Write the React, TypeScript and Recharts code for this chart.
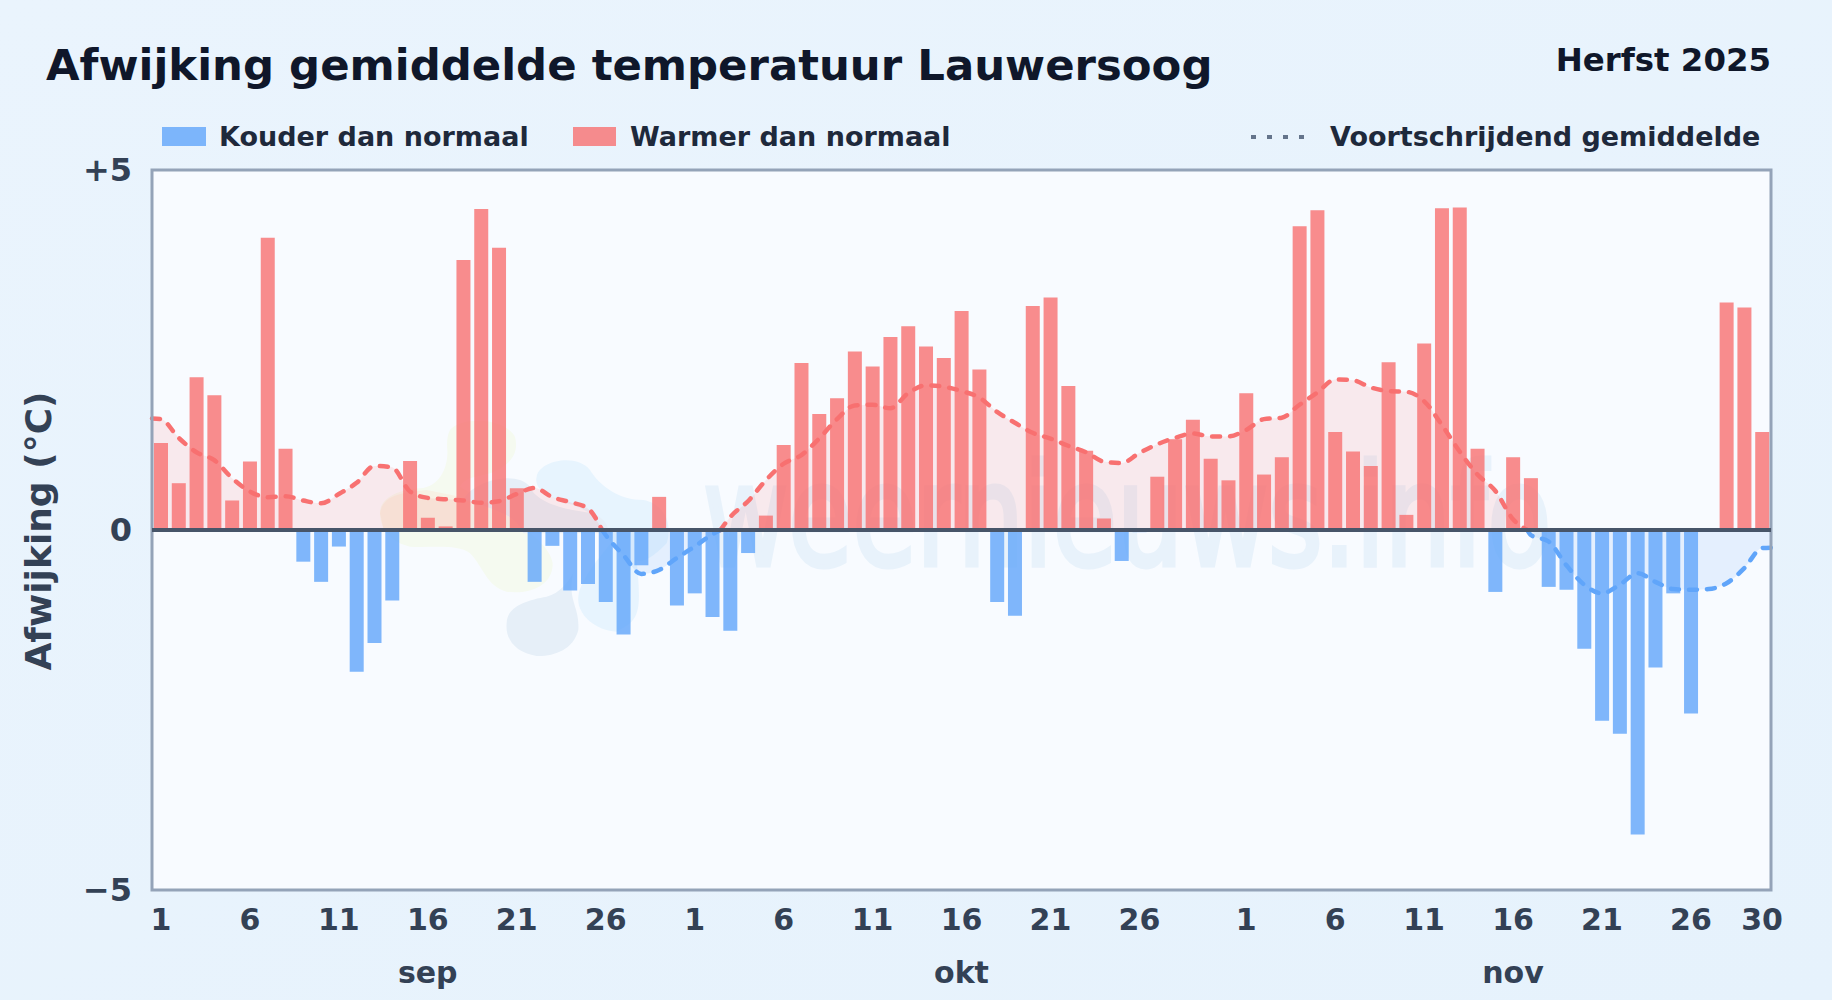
import React from "react";
import {
  ComposedChart,
  Bar,
  Area,
  XAxis,
  YAxis,
  ReferenceLine,
  ReferenceArea,
} from "recharts";

const TITLE = "Afwijking gemiddelde temperatuur Lauwersoog";
const SEASON = "Herfst 2025";
const Y_LABEL = "Afwijking (°C)";
const LEGEND_COLD = "Kouder dan normaal";
const LEGEND_WARM = "Warmer dan normaal";
const LEGEND_AVG = "Voortschrijdend gemiddelde";
const WATERMARK = "weernieuws.info";

const septemberDeviation = [
  1.21, 0.65, 2.12, 1.87, 0.41, 0.95, 4.06, 1.13, -0.44, -0.72, -0.23, -1.97, -1.57, -0.98, 0.96, 0.17,
  0.05, 3.75, 4.46, 3.92, 0.58, -0.72, -0.22, -0.84, -0.75, -1.0, -1.45, -0.49, 0.46, -1.05,
];
const octoberDeviation = [
  -0.88, -1.21, -1.4, -0.32, 0.2, 1.18, 2.32, 1.61, 1.83, 2.48, 2.27, 2.68, 2.83, 2.55, 2.39, 3.04,
  2.23, -1.0, -1.19, 3.11, 3.23, 2.0, 1.1, 0.16, -0.43, -0.03, 0.74, 1.26, 1.53, 0.99, 0.69,
];
const novemberDeviation = [
  1.9, 0.77, 1.01, 4.22, 4.44, 1.36, 1.09, 0.89, 2.33, 0.21, 2.59, 4.47, 4.48, 1.13, -0.86, 1.01, 0.72,
  -0.79, -0.83, -1.65, -2.65, -2.83, -4.23, -1.91, -0.88, -2.55, 0, 3.16, 3.09, 1.36,
];
const movingAverage = [
  1.54, 1.28, 1.08, 0.97, 0.72, 0.535, 0.456, 0.47, 0.41, 0.37, 0.5, 0.655, 0.89, 0.87, 0.535, 0.446,
  0.427, 0.41, 0.377, 0.4, 0.5, 0.585, 0.456, 0.387, 0.3, -0.07, -0.35, -0.61, -0.555, -0.39,
  -0.23, -0.06, 0.18, 0.4, 0.69, 0.92, 1.04, 1.27, 1.54, 1.73, 1.74, 1.69, 1.9, 2.01, 1.99, 1.93,
  1.84, 1.64, 1.49, 1.35, 1.27, 1.17, 1.08, 0.95, 0.93, 1.07, 1.19, 1.28, 1.34, 1.3, 1.3,
  1.39, 1.54, 1.56, 1.74, 1.91, 2.09, 2.08, 1.98, 1.93, 1.92, 1.79, 1.46, 1.09, 0.77, 0.545, 0.15,
  -0.07, -0.16, -0.49, -0.76, -0.88, -0.76, -0.6, -0.72, -0.82, -0.83, -0.82, -0.74, -0.53, -0.25,
];
const averageStart = 1.55;
const averageEnd = -0.245;
const zeroCrossings = [24.8, 31.45, 76.8];

const dayTicks = [0, 5, 10, 15, 20, 25, 30, 35, 40, 45, 50, 55, 61, 66, 71, 76, 81, 86, 90];
const dayLabels = ["1", "6", "11", "16", "21", "26", "1", "6", "11", "16", "21", "26", "1", "6", "11", "16", "21", "26", "30"];
const monthTicks = [15, 45, 76];
const monthLabels = ["sep", "okt", "nov"];
const yTicks = [-5, 0, 5];
const yTickLabels = ["−5", "0", "+5"];

const deviation = [...septemberDeviation, ...octoberDeviation, ...novemberDeviation];

const signedAvg = (x: number, v: number) => ({
  x,
  avgWarm: v >= 0 ? v : null,
  avgCold: v < 0 ? v : null,
});

const dayRows = deviation.map((d, i) => ({
  x: i,
  warm: d > 0 ? d : null,
  cold: d < 0 ? d : null,
}));

const avgRows = [
  signedAvg(-0.5, averageStart),
  ...movingAverage.map((v, i) => signedAvg(i, v)),
  ...zeroCrossings.map((x) => ({ x, avgWarm: 0, avgCold: 0 })),
  signedAvg(90.5, averageEnd),
].sort((a, b) => a.x - b.x);

const FONT = "'DejaVu Sans', sans-serif";
const INK = "#0f172a";
const LABEL = "#1e293b";
const AXIS_TEXT = "#334155";
const BLUE = "#60a5fa";
const RED = "#f87171";

const W = 1832;
const H = 1000;
const PLOT = { left: 152, top: 170, right: 1771, bottom: 890 };

const Txt = ({ x, y, size, color, anchor = "start", children, transform }: any) => (
  <text
    x={x}
    y={y}
    fontFamily={FONT}
    fontWeight={700}
    fontSize={size}
    fill={color}
    textAnchor={anchor}
    transform={transform}
  >
    {children}
  </text>
);

const Backdrop = () => (
  <svg width={W} height={H} style={{ position: "absolute", left: 0, top: 0 }}>
    <defs>
      <linearGradient id="page" x1="0" y1="0" x2="1" y2="1">
        <stop offset="0" stopColor="#eaf4fd" />
        <stop offset="1" stopColor="#e6f2fc" />
      </linearGradient>
    </defs>
    <rect width={W} height={H} fill="url(#page)" />
    <rect
      x={PLOT.left}
      y={PLOT.top}
      width={PLOT.right - PLOT.left}
      height={PLOT.bottom - PLOT.top}
      fill="#f8fbff"
    />
    <g transform="translate(360,400) scale(0.3333)">
      <path
        d="M270 90 C300 50 430 50 465 110 C480 170 440 200 390 220 C340 235 320 230 300 260 C420 330 570 420 578 490 C580 560 500 585 440 575 C380 560 370 500 330 460 C290 430 210 445 150 440 C100 430 60 390 60 340 C60 290 120 270 180 265 C240 260 265 200 262 150 C260 125 262 105 270 90 Z"
        fill="#f5faf0"
      />
      <path
        d="M60 340 C70 280 130 280 200 270 L300 290 L300 385 L70 385 Z"
        fill="#f8ebdc"
        opacity={0.6}
      />
      <path
        d="M530 230 C540 180 650 160 690 210 C720 260 780 300 850 300 C910 310 940 370 920 430 C880 470 850 490 830 480 C845 640 840 660 770 695 C700 690 650 640 655 590 C660 540 720 470 760 420 C740 380 700 330 620 310 C570 290 520 270 530 230 Z"
        fill="#e7f4fe"
      />
      <path
        d="M440 670 C440 620 500 600 560 590 C600 580 620 550 640 520 C620 600 660 620 655 690 C640 750 580 770 530 768 C470 760 435 720 440 670 Z"
        fill="#e6eff8"
      />
      <path
        d="M310 300 C340 240 470 210 510 260 C530 310 620 330 700 340 C740 360 750 385 740 400 L490 400 C470 340 380 320 310 300 Z"
        fill="#e6eff8"
      />
    </g>
    <text
      transform="translate(703,565) scale(0.745,1)"
      fontFamily={FONT}
      fontWeight={400}
      fontSize={140}
      fill="#e8f2fb"
      stroke="#e8f2fb"
      strokeWidth={5}
    >
      {WATERMARK}
    </text>
  </svg>
);

const Overlay = () => (
  <svg width={W} height={H} style={{ position: "absolute", left: 0, top: 0, pointerEvents: "none" }}>
    <Txt x={46} y={80} size={43.4} color={INK}>{TITLE}</Txt>
    <Txt x={1771} y={71} size={32.4} color={INK} anchor="end">{SEASON}</Txt>
    <rect x={162} y={127} width={44} height={19} fill={BLUE} opacity={0.8} />
    <Txt x={219} y={146} size={27} color={LABEL}>{LEGEND_COLD}</Txt>
    <rect x={573} y={127} width={43} height={19} fill={RED} opacity={0.8} />
    <Txt x={630} y={146} size={27} color={LABEL}>{LEGEND_WARM}</Txt>
    <line x1={1251} x2={1307} y1={137} y2={137} stroke="#64748b" strokeWidth={4} strokeDasharray="5 11" />
    <Txt x={1330} y={146} size={27} color={LABEL}>{LEGEND_AVG}</Txt>
    <Txt x={0} y={0} size={36} color={AXIS_TEXT} anchor="middle" transform="translate(51,531) rotate(-90)">
      {Y_LABEL}
    </Txt>
  </svg>
);

export default function App() {
  return (
    <div style={{ position: "absolute", left: 0, top: 0, width: W, height: H, overflow: "hidden" }}>
      <Backdrop />
      <div style={{ position: "absolute", left: 0, top: 0 }}>
        <ComposedChart
          width={W}
          height={H}
          data={dayRows}
          margin={{ left: 0, top: PLOT.top, right: W - PLOT.right, bottom: 0 }}
        >
          <XAxis
            xAxisId="days"
            dataKey="x"
            type="number"
            domain={[-0.5, 90.5]}
            ticks={dayTicks}
            interval={0}
            tickFormatter={(v: number) => dayLabels[dayTicks.indexOf(v)]}
            tick={{ fontFamily: FONT, fontWeight: 700, fontSize: 30, fill: AXIS_TEXT }}
            axisLine={false}
            tickLine={false}
            tickMargin={13}
            height={50}
          />
          <XAxis
            xAxisId="months"
            dataKey="x"
            type="number"
            domain={[-0.5, 90.5]}
            ticks={monthTicks}
            interval={0}
            tickFormatter={(v: number) => monthLabels[monthTicks.indexOf(v)]}
            tick={{ fontFamily: FONT, fontWeight: 700, fontSize: 30, fill: AXIS_TEXT }}
            axisLine={false}
            tickLine={false}
            tickMargin={16}
            height={60}
          />
          <XAxis xAxisId="zaverage" dataKey="x" type="number" domain={[-0.5, 90.5]} hide height={0} />
          <YAxis
            type="number"
            domain={[-5, 5]}
            ticks={yTicks}
            interval={0}
            tickFormatter={(v: number) => yTickLabels[yTicks.indexOf(v)]}
            tick={{ fontFamily: FONT, fontWeight: 700, fontSize: 32, fill: AXIS_TEXT }}
            axisLine={false}
            tickLine={false}
            tickMargin={14}
            width={PLOT.left}
          />
          <Area
            data={avgRows}
            xAxisId="zaverage"
            dataKey="avgWarm"
            type="monotone"
            stroke={RED}
            strokeWidth={4.5}
            strokeDasharray="8 10"
            strokeLinecap="round"
            fill={RED}
            fillOpacity={0.13}
            isAnimationActive={false}
            dot={false}
            activeDot={false}
          />
          <Area
            data={avgRows}
            xAxisId="zaverage"
            dataKey="avgCold"
            type="monotone"
            stroke={BLUE}
            strokeWidth={4.5}
            strokeDasharray="8 10"
            strokeLinecap="round"
            fill={BLUE}
            fillOpacity={0.13}
            isAnimationActive={false}
            dot={false}
            activeDot={false}
          />
          <Bar xAxisId="days" dataKey="cold" stackId="dev" barSize={14} fill={BLUE} fillOpacity={0.8} isAnimationActive={false} />
          <Bar xAxisId="days" dataKey="warm" stackId="dev" barSize={14} fill={RED} fillOpacity={0.8} isAnimationActive={false} />
          <ReferenceLine xAxisId="days" y={0} stroke="#475569" strokeWidth={4} />
          <ReferenceArea
            xAxisId="days"
            x1={-0.5}
            x2={90.5}
            y1={-5}
            y2={5}
            fill="none"
            stroke="#94a3b8"
            strokeWidth={3}
            fillOpacity={0}
          />
        </ComposedChart>
      </div>
      <Overlay />
    </div>
  );
}
